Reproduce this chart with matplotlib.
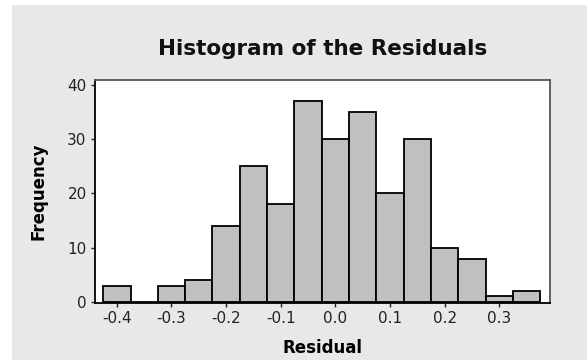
import matplotlib
matplotlib.use("Agg")
import matplotlib.pyplot as plt
from matplotlib.patches import Rectangle

# bin centres and counts
bin_centres = [-0.40, -0.35, -0.30, -0.25, -0.20, -0.15, -0.10, -0.05,
               0.00, 0.05, 0.10, 0.15, 0.20, 0.25, 0.30, 0.35]
counts = [3, 0, 3, 4, 14, 25, 18, 37, 30, 35, 20, 30, 10, 8, 1, 2]
xticks = [-0.4, -0.3, -0.2, -0.1, 0.0, 0.1, 0.2, 0.3]
yticks = [0, 10, 20, 30, 40]

fig = plt.figure(figsize=(5.87, 3.60), dpi=100)
fig.patch.set_facecolor("white")
# grey panel, with a thin white margin at left and top
fig.add_artist(Rectangle((12 / 587, 0), 1, 1 - 5 / 360,
                         transform=fig.transFigure, facecolor="#e8e8e8",
                         edgecolor="none", zorder=-5))

ax = fig.add_axes([95 / 587, 1 - 303 / 360, (550 - 95) / 587, (303 - 80) / 360])
ax.set_facecolor("white")
ax.bar(bin_centres, counts, width=0.05, color="#c0c0c0",
       edgecolor="black", linewidth=1.3, zorder=2)

ax.set_xlim(-0.44, 0.393)
ax.set_ylim(-0.2, 40.9)
ax.set_xticks(xticks)
ax.set_xticklabels([f"{t:.1f}" for t in xticks])
ax.set_yticks(yticks)
ax.tick_params(direction="out", length=3, width=1, labelsize=11,
               colors="#222222", pad=3)

for side in ["left", "bottom"]:
    ax.spines[side].set_color("black")
    ax.spines[side].set_linewidth(1.3)
for side in ["top", "right"]:
    ax.spines[side].set_color("#555555")
    ax.spines[side].set_linewidth(1.3)

ax.set_title("Histogram of the Residuals", fontsize=15.5, fontweight="bold",
             color="#111111", pad=18)
ax.set_xlabel("Residual", fontsize=12, fontweight="bold", labelpad=9)
ax.set_ylabel("Frequency", fontsize=12, fontweight="bold", labelpad=14)

fig.savefig("out.png", dpi=100)
